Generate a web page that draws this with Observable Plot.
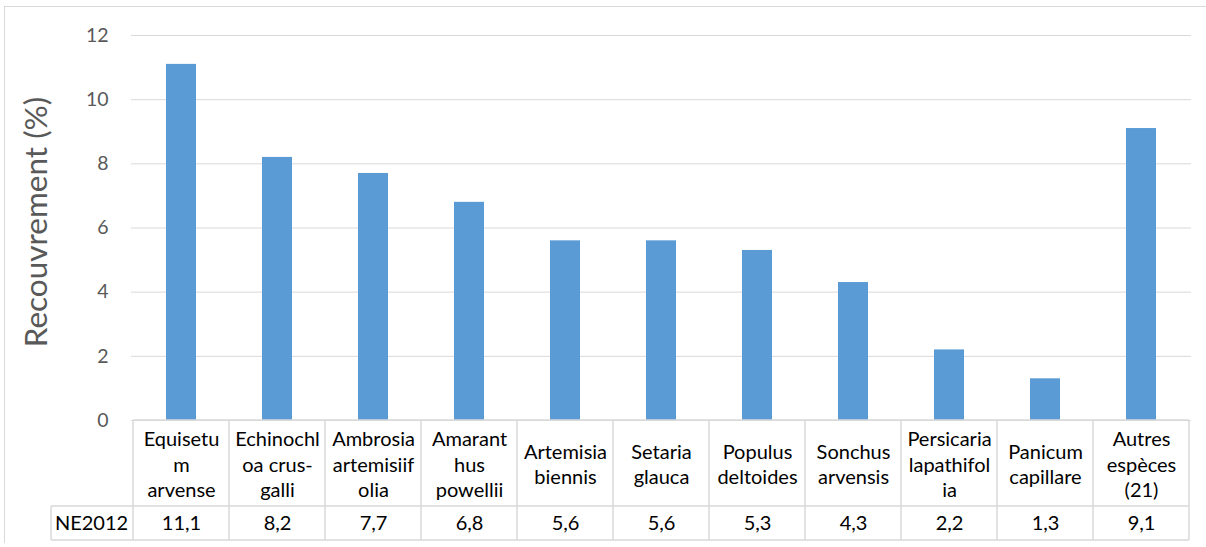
<!DOCTYPE html>
<html><head><meta charset="utf-8">
<script src="https://cdn.jsdelivr.net/npm/d3@7"></script>
<script src="https://cdn.jsdelivr.net/npm/@observablehq/plot@0.6"></script>
<style>
body{margin:0;background:#fff;overflow:hidden;}
#wrap{position:relative;width:1206px;height:547px;}
#frame{position:absolute;left:4px;top:6px;width:1220px;height:537px;border-left:1px solid #d9d9d9;border-top:1px solid #d9d9d9;box-sizing:border-box;pointer-events:none;}
#chart{position:absolute;left:0;top:0;}
</style></head><body>
<div id="wrap"><div id="frame"></div><div id="chart"></div></div>
<script>
const categories = ["Equisetum arvense","Echinochloa crus-galli","Ambrosia artemisiifolia","Amaranthus powellii","Artemisia biennis","Setaria glauca","Populus deltoides","Sonchus arvensis","Persicaria lapathifolia","Panicum capillare","Autres espèces (21)"];
const categoryLabels = ["Equisetu\nm\narvense","Echinochl\noa crus-\ngalli","Ambrosia\nartemisiif\nolia","Amarant\nhus\npowellii","Artemisia\nbiennis","Setaria\nglauca","Populus\ndeltoides","Sonchus\narvensis","Persicaria\nlapathifol\nia","Panicum\ncapillare","Autres\nespèces\n(21)"];
const values = [11.1, 8.2, 7.7, 6.8, 5.6, 5.6, 5.3, 4.3, 2.2, 1.3, 9.1];
const seriesName = "NE2012";
const yTicks = [0, 2, 4, 6, 8, 10, 12];
const yLabel = "Recouvrement (%)";

const data = categories.map((c, i) => ({
  cat: c, label: categoryLabels[i], value: values[i],
  valueText: values[i].toFixed(1).replace(".", ",")
}));

const FONT = "Lato, 'Open Sans', sans-serif";
const plot = Plot.plot({
  width: 1206, height: 547,
  marginLeft: 131, marginRight: 15, marginTop: 35, marginBottom: 127,
  style: {fontFamily: FONT, background: "transparent", overflow: "visible"},
  x: {domain: categories, padding: 0, axis: null},
  y: {domain: [0, 12], axis: null},
  marks: [
    Plot.gridY(yTicks, {stroke: "#d9d9d9", strokeOpacity: 1, strokeWidth: 1}),
    Plot.axisY(yTicks, {tickSize: 0, tickPadding: 23, fontSize: 19.5, color: "#595959", label: null, tickFormat: d => String(d)}),
    Plot.barY(data, {x: "cat", y: "value", fill: "#5b9bd5", insetLeft: 33, insetRight: 33}),
    Plot.text(data, {x: "cat", text: "label", frameAnchor: "bottom", dy: 43, lineAnchor: "middle", lineHeight: 1.27, fontSize: 20, fill: "#000"}),
    Plot.text(data, {x: "cat", text: "valueText", frameAnchor: "bottom", dy: 103, lineAnchor: "middle", fontSize: 20, fill: "#000"}),
    Plot.text([seriesName], {frameAnchor: "bottom-left", dx: -40, dy: 103, lineAnchor: "middle", textAnchor: "middle", fontSize: 20, fill: "#000"}),
    Plot.text([yLabel], {frameAnchor: "left", dx: -95, dy: -6, rotate: -90, textAnchor: "middle", lineAnchor: "middle", fontSize: 31.5, fill: "#595959"})
  ]
});

// Data table grid lines, positioned from Plot's own scales
const xs = plot.scale("x");
const ys = plot.scale("y");
const bw = xs.bandwidth;
const y0 = ys.apply(0);
const rowSplit = y0 + 86, rowBottom = y0 + 120, headerLeft = 51;
const g = d3.select(plot).append("g").attr("stroke", "#d9d9d9").attr("stroke-width", 1.5).attr("fill", "none");
const x0 = xs.apply(categories[0]);
const xEnd = xs.apply(categories[categories.length - 1]) + bw;
g.append("line").attr("x1", x0).attr("x2", xEnd).attr("y1", y0).attr("y2", y0);
g.append("line").attr("x1", headerLeft).attr("x2", xEnd).attr("y1", rowSplit).attr("y2", rowSplit);
g.append("line").attr("x1", headerLeft).attr("x2", xEnd).attr("y1", rowBottom).attr("y2", rowBottom);
g.append("line").attr("x1", headerLeft).attr("x2", headerLeft).attr("y1", rowSplit).attr("y2", rowBottom);
categories.forEach(c => {
  const xl = xs.apply(c);
  g.append("line").attr("x1", xl).attr("x2", xl).attr("y1", y0).attr("y2", rowBottom);
});
g.append("line").attr("x1", xEnd).attr("x2", xEnd).attr("y1", y0).attr("y2", rowBottom);

document.getElementById("chart").appendChild(plot);
</script>
</body></html>
